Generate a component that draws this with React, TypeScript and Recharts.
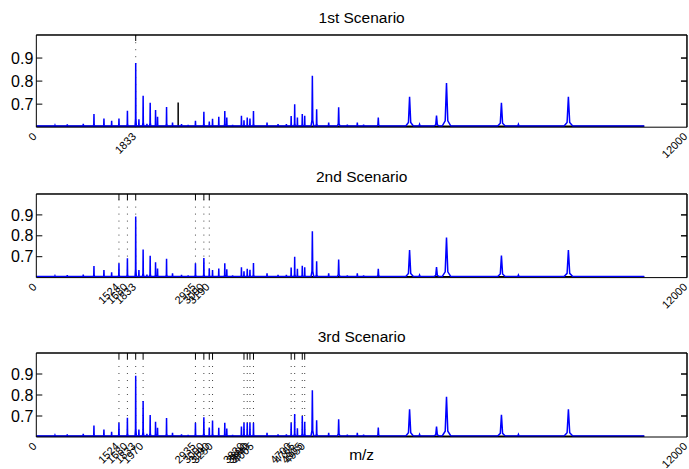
import { LineChart, Line, XAxis, YAxis, ReferenceLine } from "recharts";

// peak list: m/z, height in each scenario, half width (m/z)
const PEAK_MZ = [
  344, 571, 866, 1063, 1247, 1389, 1524, 1680, 1833, 1892, 1970, 2040, 2100, 2199,
  2236, 2402, 2512, 2678, 2800, 2935, 3090, 3190, 3250, 3365, 3476, 3513, 3620,
  3783, 3830, 3890, 3940, 4005, 4255, 4458, 4612, 4700, 4765, 4815, 4905, 4950,
  5091, 5170, 5392, 5576, 5736, 5920, 6036, 6307, 6884, 7068, 7381, 7565, 8578,
  8891, 9813,
];
const PEAK_1 = [
  0.608, 0.612, 0.615, 0.657, 0.638, 0.628, 0.638, 0.671, 0.879, 0.634, 0.736, 0.615, 0.706, 0.674,
  0.645, 0.688, 0.62, 0.613, 0.61, 0.628, 0.667, 0.625, 0.636, 0.645, 0.67, 0.642, 0.61,
  0.65, 0.63, 0.642, 0.638, 0.67, 0.62, 0.613, 0.613, 0.648, 0.7, 0.642, 0.657, 0.65,
  0.823, 0.678, 0.62, 0.686, 0.611, 0.62, 0.611, 0.642, 0.732, 0.612, 0.65, 0.792, 0.706,
  0.612, 0.732,
];
const PEAK_2 = [
  0.608, 0.612, 0.615, 0.655, 0.636, 0.625, 0.668, 0.692, 0.892, 0.636, 0.735, 0.615, 0.705, 0.673,
  0.644, 0.69, 0.62, 0.613, 0.61, 0.668, 0.694, 0.645, 0.636, 0.644, 0.668, 0.64, 0.61,
  0.65, 0.63, 0.642, 0.638, 0.67, 0.62, 0.613, 0.613, 0.648, 0.7, 0.642, 0.657, 0.65,
  0.822, 0.678, 0.62, 0.686, 0.611, 0.62, 0.611, 0.642, 0.732, 0.612, 0.65, 0.792, 0.706,
  0.612, 0.732,
];
const PEAK_3 = [
  0.608, 0.612, 0.615, 0.655, 0.636, 0.625, 0.668, 0.692, 0.892, 0.636, 0.772, 0.615, 0.705, 0.673,
  0.644, 0.69, 0.62, 0.613, 0.61, 0.668, 0.694, 0.645, 0.679, 0.644, 0.668, 0.64, 0.61,
  0.65, 0.668, 0.668, 0.668, 0.668, 0.62, 0.613, 0.613, 0.668, 0.71, 0.642, 0.7, 0.673,
  0.823, 0.68, 0.62, 0.685, 0.611, 0.62, 0.611, 0.645, 0.732, 0.612, 0.65, 0.792, 0.706,
  0.612, 0.732,
];
const PEAK_HW = [
  12, 12, 12, 12, 12, 12, 12, 12, 12, 12, 12, 12, 12, 12,
  12, 12, 12, 12, 12, 12, 12, 12, 12, 12, 12, 12, 12,
  12, 12, 12, 12, 12, 12, 12, 12, 12, 12, 12, 12, 12,
  25, 15, 15, 25, 15, 15, 15, 25, 70, 30, 50, 80, 70,
  30, 80,
];
const BASELINE = 0.605;
const SPEC_START = 0;
const SPEC_END = 11212;

// black trace (only the 1st scenario shows a spike)
const BLACK_MZ_1 = [0, 2616, 2616, 2616, 11212];
const BLACK_V_1 = [0.604, 0.604, 0.707, 0.604, 0.604];
const BLACK_MZ = [0, 11212];
const BLACK_V = [0.604, 0.604];

const TICKS_1 = [1833];
const TICKS_2 = [1524, 1680, 1833, 2935, 3090, 3190];
const TICKS_3 = [1524, 1680, 1833, 1970, 2935, 3090, 3190, 3250, 3830, 3890, 3940, 4005, 4700, 4765, 4905, 4950];
const Y_TICKS = [0.7, 0.8, 0.9];
const X_MIN = 0;
const X_MAX = 12000;
const Y_MIN = 0.6;
const Y_MAX = 1.0;
const TITLES = ["1st Scenario", "2nd Scenario", "3rd Scenario"];

// peak outline, in units of half width / relative height
const SHAPE_X = [-1, -0.3, 0, 0.3, 1];
const SHAPE_Y = [0, 0.12, 1, 0.12, 0];
// length of the inward tick marks on the right edge, in m/z units (~6px)
const RIGHT_TICK_LEN = 110;

function spectrum(heights: number[]) {
  const pts = [{ mz: SPEC_START, v: BASELINE }];
  PEAK_MZ.forEach((mz, i) => {
    SHAPE_X.forEach((sx, k) => {
      pts.push({ mz: mz + sx * PEAK_HW[i], v: BASELINE + SHAPE_Y[k] * (heights[i] - BASELINE) });
    });
  });
  pts.push({ mz: SPEC_END, v: BASELINE });
  return pts;
}

function zip(xs: number[], ys: number[]) {
  return xs.map((mz, i) => ({ mz, v: ys[i] }));
}

const FONT = '"Liberation Sans", Arial, Helvetica, sans-serif';
const W = 689;
const LEFT = 36.3;
const TOP_M = 4;
const XH = 34;

const LAYOUT = [
  { plotTop: 34.5, plotH: 92.2, titleTop: 10.2 },
  { plotTop: 193.7, plotH: 83.6, titleTop: 169.2 },
  { plotTop: 352.7, plotH: 84, titleTop: 328.6 },
];

function XTick(props: any) {
  const { x, y, payload } = props;
  return (
    <g transform={`translate(${x + 1},${y + 10})`}>
      <text transform="rotate(-45)" textAnchor="end" fontSize={11} fill="#000">
        {payload.value}
      </text>
    </g>
  );
}

const NoTick = () => <g />;

function Panel({ idx, heights, ticks, black }: { idx: number; heights: number[]; ticks: number[]; black: { mz: number; v: number }[] }) {
  const { plotTop, plotH, titleTop } = LAYOUT[idx];
  const h = TOP_M + plotH + XH;
  return (
    <>
      <div
        style={{
          position: "absolute", top: titleTop, left: LEFT, width: W - LEFT - 2,
          textAlign: "center", fontSize: 15.5, lineHeight: 1, color: "#000",
        }}
      >
        {TITLES[idx]}
      </div>
      <div style={{ position: "absolute", top: plotTop - TOP_M, left: 0 }}>
        <LineChart width={W} height={h} margin={{ top: TOP_M - 1, right: 0, bottom: 0, left: 0 }}>
          <XAxis
            dataKey="mz" type="number" domain={[X_MIN, X_MAX]} allowDataOverflow
            ticks={[X_MIN, ...ticks, X_MAX]} interval={0} height={XH}
            axisLine={{ stroke: "#000" }} tickLine={false} tickSize={0} tickMargin={0}
            tick={(p: any) => <XTick {...p} />}
          />
          <XAxis
            xAxisId="t" orientation="top" dataKey="mz" type="number" domain={[X_MIN, X_MAX]}
            allowDataOverflow ticks={ticks} interval={0} height={1}
            axisLine={{ stroke: "#000" }} tickLine={{ stroke: "#000" }} tickSize={-6}
            tick={NoTick}
          />
          <YAxis
            type="number" domain={[Y_MIN, Y_MAX]} allowDataOverflow ticks={Y_TICKS} interval={0} width={LEFT}
            axisLine={{ stroke: "#000" }} tickLine={{ stroke: "#000" }} tickSize={-6} tickMargin={9}
            tick={{ fill: "#000", fontSize: 16 }}
          />
          <YAxis
            yAxisId="r" orientation="right" type="number" domain={[Y_MIN, Y_MAX]} allowDataOverflow
            ticks={Y_TICKS} interval={0} width={2}
            axisLine={{ stroke: "#000" }} tickLine={{ stroke: "#000" }} tickSize={-6}
            tick={NoTick}
          />
          {ticks.map((t) => (
            <ReferenceLine key={t} x={t} stroke="#444" strokeDasharray="1 6" />
          ))}
          <ReferenceLine y={Y_MAX} stroke="#000" />
          <ReferenceLine x={X_MAX} stroke="#000" />
          {Y_TICKS.map((t) => (
            <ReferenceLine
              key={`r${t}`} stroke="#000"
              segment={[{ x: X_MAX - RIGHT_TICK_LEN, y: t }, { x: X_MAX, y: t }]}
            />
          ))}
          <Line
            data={black} xAxisId="t" yAxisId="r" dataKey="v" stroke="#000" strokeWidth={1.5}
            dot={false} activeDot={false} isAnimationActive={false} type="linear"
          />
          <Line
            data={spectrum(heights)} dataKey="v" stroke="#0000ff" strokeWidth={1.5}
            dot={false} activeDot={false} isAnimationActive={false} type="linear"
          />
        </LineChart>
      </div>
    </>
  );
}

export default function App() {
  return (
    <div
      style={{
        position: "absolute", left: 0, top: 0, width: W, height: 469,
        background: "#fff", fontFamily: FONT,
      }}
    >
      <Panel idx={0} heights={PEAK_1} ticks={TICKS_1} black={zip(BLACK_MZ_1, BLACK_V_1)} />
      <Panel idx={1} heights={PEAK_2} ticks={TICKS_2} black={zip(BLACK_MZ, BLACK_V)} />
      <Panel idx={2} heights={PEAK_3} ticks={TICKS_3} black={zip(BLACK_MZ, BLACK_V)} />
      <div
        style={{
          position: "absolute", top: 446.9, left: LEFT, width: W - LEFT - 2,
          textAlign: "center", fontSize: 15.5, lineHeight: 1, color: "#000",
        }}
      >
        m/z
      </div>
    </div>
  );
}
